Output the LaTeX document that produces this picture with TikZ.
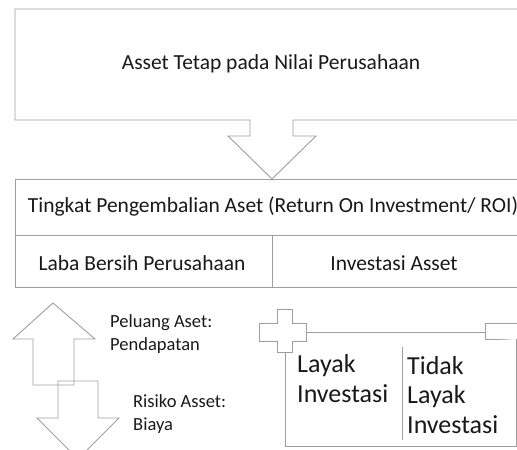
\documentclass[tikz,border=0pt]{standalone}
\usepackage{fontspec}
\setmainfont{Carlito}
\usetikzlibrary{positioning}
\definecolor{linegray}{rgb}{0.62,0.62,0.62}
\definecolor{textgray}{rgb}{0.1,0.1,0.1}

\begin{document}
\begin{tikzpicture}[x=1pt,y=-1pt, line join=miter,
    blockshape/.style={draw=linegray, line width=0.9pt, fill=white},
    txt/.style={text=textgray, font=\fontsize{21.5}{25}\selectfont, inner sep=0pt},
    sidetxt/.style={text=textgray, font=\fontsize{18.5}{22.5}\selectfont, inner sep=0pt, align=left, anchor=base west},
    bigtxt/.style={text=textgray, font=\fontsize{26}{29.5}\selectfont, inner sep=0pt, align=left, anchor=base west}]
    \useasboundingbox (0,0) rectangle (517,450);
    \clip (0,0) rectangle (517,450);
    % top box with block arrow
    \draw[blockshape] (530,9) -- (15,9) -- (15,120) -- (250,120) -- (250,136) -- (228,136)
        -- (272,179) -- (316,136) -- (293,136) -- (293,120) -- (530,120);
    \node[txt] (nilai) at (271,64) {Asset Tetap pada Nilai Perusahaan};
    % ROI table
    \draw[blockshape] (530,179) -- (15,179) -- (15,287) -- (530,287);
    \draw[blockshape] (15,235) -- (530,235);
    \draw[blockshape] (272,235) -- (272,287);
    \draw[linegray, line width=1.4pt] (15,287.5) -- (530,287.5);
    \node[txt] (roi) at (273,206) {Tingkat Pengembalian Aset (Return On Investment/ ROI)};
    \node[txt] (laba) at (142,263) {Laba Bersih Perusahaan};
    \node[txt] (investasi) at (394,263) {Investasi Asset};
    % up and down arrows
    \draw[blockshape, fill=none] (53,303) -- (95,339) -- (74,339) -- (74,385) -- (33,385) -- (33,339) -- (13,339) -- cycle;
    \draw[blockshape, fill=none] (58,381) -- (98,381) -- (98,418) -- (119,418) -- (78,459) -- (37,418) -- (58,418) -- cycle;
    \node[sidetxt] (peluang) at (110,350) {Peluang Aset:\\Pendapatan};
    \node[sidetxt] (risiko) at (133,430) {Risiko Asset:\\Biaya};
    % scroll box
    \draw[blockshape] (306,332) -- (485,332);
    \draw[blockshape] (485,323) rectangle (530,339);
    \draw[blockshape] (516,339) -- (516,446) -- (285,446) -- (285,352);
    \draw[linegray, line width=1.2pt] (516,446.3) -- (285,446.3);
    \draw[blockshape] (277,309) -- (292,309) -- (292,323) -- (306,323) -- (306,341) -- (292,341)
        -- (292,352) -- (277,352) -- (277,341) -- (259,341) -- (259,323) -- (277,323) -- cycle;
    \draw[blockshape] (402,347) -- (402,440);
    \node[bigtxt] (layak) at (297,402) {Layak\\Investasi};
    \node[bigtxt] (tidak) at (407,433) {Tidak\\Layak\\Investasi};
\end{tikzpicture}
\end{document}
